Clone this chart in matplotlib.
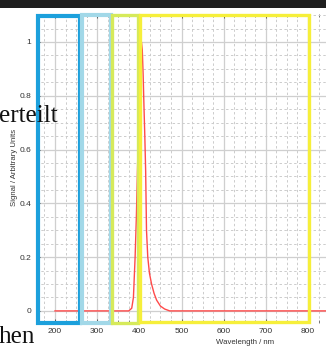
import matplotlib
matplotlib.use("Agg")
import matplotlib.pyplot as plt
from matplotlib.patches import Rectangle
from matplotlib.ticker import MultipleLocator

# Data
wavelength = [200, 375, 382, 386, 390, 393, 396, 399, 401, 403, 405, 407, 409,
              411, 413, 415, 417, 420, 424, 429, 435, 441, 450, 460, 472, 845]
signal = [0.0, 0.0, 0.01, 0.05, 0.2, 0.35, 0.55, 0.75, 0.88, 0.96, 1.0, 0.97, 0.88,
          0.76, 0.65, 0.52, 0.3, 0.2, 0.14, 0.1, 0.065, 0.04, 0.018, 0.007, 0.0, 0.0]
xticks = [200, 300, 400, 500, 600, 700, 800]
yticks = [0, 0.2, 0.4, 0.6, 0.8, 1]
ytick_labels = ["0", "0.2", "0.4", "0.6", "0.8", "1"]
overlay_texts = ["erteilt", "hen"]

W, H = 326, 347
fig = plt.figure(figsize=(W / 100, H / 100), dpi=100)
fig.patch.set_facecolor("white")

def fx(px):
    return px / W

def fy(py):
    return 1 - py / H

ax_left, ax_right, ax_top, ax_bottom = 36, 326, 14, 323
ax = fig.add_axes([fx(ax_left), fy(ax_bottom), fx(ax_right - ax_left), (ax_bottom - ax_top) / H])
ax.set_xlim(155, 842.6)
ax.set_ylim(-0.045, 1.104)

ax.plot(wavelength, signal, color="#ff4a4a", lw=1.0, zorder=3)

ax.set_xticks(xticks)
ax.set_yticks(yticks)
ax.set_yticklabels(ytick_labels)
ax.xaxis.set_minor_locator(MultipleLocator(25))
ax.yaxis.set_minor_locator(MultipleLocator(0.05))
ax.grid(which="major", color="#cfcfcf", lw=0.9, ls="-", zorder=0)
ax.grid(which="minor", color="#cccccc", lw=0.7, ls=(0, (2.5, 2.5)), zorder=0)
ax.tick_params(axis="both", which="both", direction="in", top=True, right=False,
               colors="#555555", labelcolor="#333333", labelsize=6, pad=3.5)
ax.tick_params(which="major", length=3, width=0.7)
ax.tick_params(which="minor", length=2, width=0.5)
for lab in ax.get_xticklabels() + ax.get_yticklabels():
    lab.set_family("Liberation Sans")
for s in ax.spines.values():
    s.set_visible(False)
ax.set_axisbelow(True)

fig.text(fx(14), fy(167), "Signal / Arbitrary Units", rotation=90, ha="center", va="center",
         fontsize=5.6, family="Liberation Sans", color="#333333")
fig.text(fx(245), fy(342), "Wavelength / nm", ha="center", va="center",
         fontsize=5.6, family="Liberation Sans", color="#333333")

# Top dark bar
fig.patches.append(Rectangle((0, fy(8)), 1, 8 / H, transform=fig.transFigure,
                             facecolor="#1f1f1f", edgecolor="none", zorder=5))

def frame(x0, x1, y0, y1, color, lw):
    fig.patches.append(Rectangle((fx(x0), fy(y1)), fx(x1 - x0), (y1 - y0) / H,
                                 transform=fig.transFigure, fill=False,
                                 edgecolor=color, lw=lw, zorder=6))

frame(37.5, 79.5, 15.5, 322.5, "#1ca0dc", 3.0)
frame(81.5, 110.5, 14.5, 322.5, "#a2d8e8", 3.0)
frame(112, 137.5, 14.5, 322.5, "#d6ea5a", 2.4)
frame(139.5, 308.5, 14.5, 322, "#f6ef3a", 2.4)

fig.text(-0.003, fy(122), overlay_texts[0], ha="left", va="baseline",
         fontsize=18, family="Liberation Serif", color="#111111", zorder=7)
fig.text(-0.003, fy(343), overlay_texts[1], ha="left", va="baseline",
         fontsize=18, family="Liberation Serif", color="#111111", zorder=7)

fig.savefig("out.png", dpi=100, facecolor="white")
